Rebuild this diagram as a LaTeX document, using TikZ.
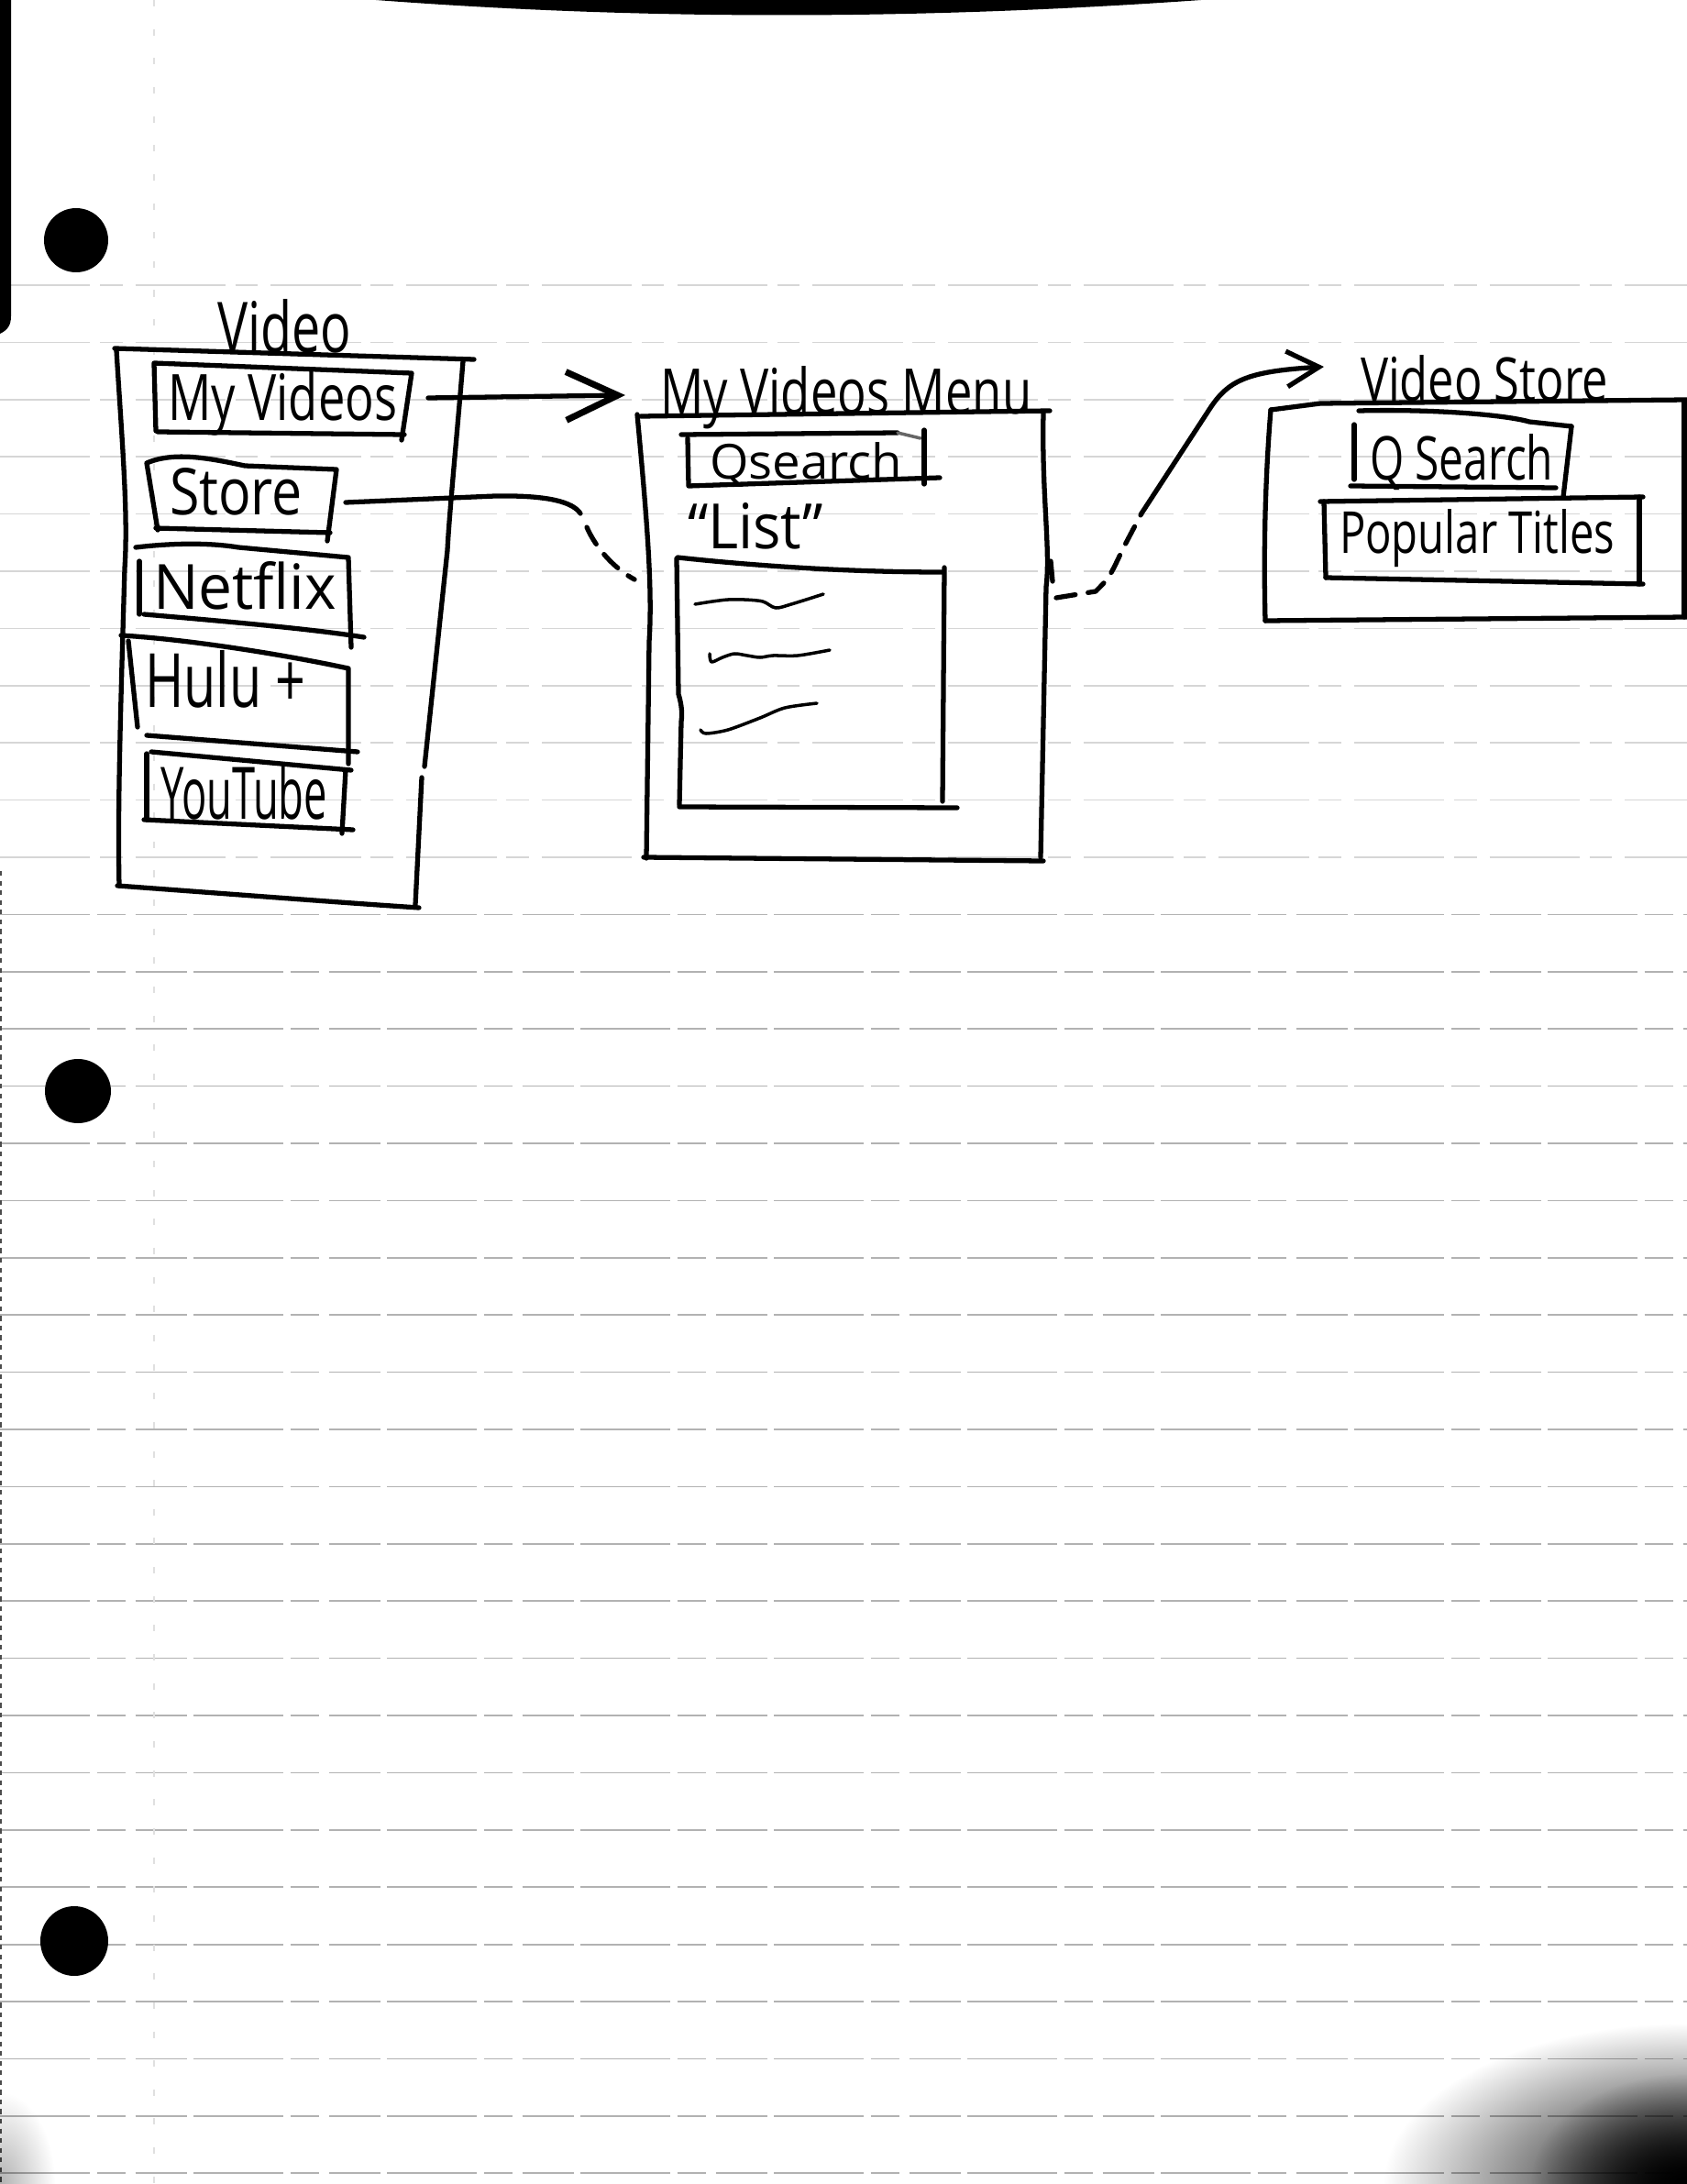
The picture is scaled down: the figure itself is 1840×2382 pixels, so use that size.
\documentclass[tikz,border=0pt]{standalone}
\usepackage{fontspec}
\setmainfont{Open Sans}
\usepackage{graphicx}
\usetikzlibrary{arrows.meta,fadings}
% hand lettering: text squeezed to a given width and height (in cm)
\newcommand{\handtext}[3]{\resizebox{#1cm}{#2cm}{#3}}
\tikzfading[name=soft spot, inner color=transparent!0, outer color=transparent!100]

\begin{document}
\begin{tikzpicture}[x=0.01cm,y=-0.01cm,
  pen/.style={line width=1.5pt,line cap=round,line join=round},
  finepen/.style={line width=1pt,line cap=round,line join=round},
  hidden/.style={pen,dash pattern=on 6pt off 4pt},
  rule/.style={black!30,line width=0.5pt,dash pattern=on 28pt off 2pt on 9pt off 3pt on 16pt off 2pt},
  faintrule/.style={black!16,line width=0.5pt,dash pattern=on 28pt off 3pt on 7pt off 4pt},
  label/.style={anchor=base west,inner sep=0pt,outer sep=0pt}]
\useasboundingbox (0,0) rectangle (1840,2382);
\fill[white] (0,0) rectangle (1840,2382);

% ---- ruled notebook paper ----
\foreach \k in {0,...,10}
  \draw[faintrule] (0,{311+62.4*\k}) -- (1840,{311+62.4*\k});
\foreach \k in {11,...,33}
  \draw[rule] (0,{311+62.4*\k}) -- (1840,{311+62.4*\k});
\draw[black!12,line width=0.4pt,dash pattern=on 2pt off 7pt] (168,0) -- (168,2382);

% punched holes
\fill (83,262) circle[radius=35];
\fill (85,1190) ellipse[x radius=36,y radius=35];
\fill (81,2117) ellipse[x radius=37,y radius=38];

% scan shadows at the paper edges
\fill (410,0) .. controls (700,22) and (1000,22) .. (1310,0) -- cycle;
\fill (0,0) -- (12,0) -- (12,345) .. controls (12,355) and (8,360) .. (0,364) -- cycle;
\draw[black!70,line width=0.8pt,dash pattern=on 1.5pt off 1.5pt] (1,950) -- (1,2382);
\begin{scope}
  \clip (0,0) rectangle (1840,2382);
  \fill[black,path fading=soft spot] (1840,2382) ellipse[x radius=330,y radius=175];
  \fill[black,path fading=soft spot] (1840,2382) ellipse[x radius=170,y radius=120];
  \fill[black,opacity=0.3,path fading=soft spot] (0,2382) ellipse[x radius=60,y radius=100];
\end{scope}

% ---- Video menu ----
\node[label] (t-video) at (237,385) {\handtext{1.46}{0.58}{Video}};
\draw[pen] (125,380) -- (517,392);
\draw[pen] (127,382) .. controls (133,480) and (140,560) .. (136,620)
  .. controls (132,760) and (128,880) .. (130,966);
\draw[pen] (128,966) .. controls (250,975) and (380,985) .. (457,990);
\draw[pen] (505,394) .. controls (498,480) and (490,560) .. (488,600) -- (463,836);
\draw[pen] (460,848) -- (453,987);

% My Videos
\draw[pen] (170,470) -- (168,396) -- (449,407) -- (438,480);
\draw[pen] (172,471) -- (441,474);
\node[label] (t-myvid) at (183,458) {\handtext{2.50}{0.53}{My Videos}};

% Store
\draw[pen] (172,578) -- (160,505) .. controls (190,492) and (230,500) .. (267,508)
  -- (367,512) -- (357,590);
\draw[pen] (170,576) -- (360,581);
\node[label] (t-store) at (185,561) {\handtext{1.45}{0.51}{Store}};

% Netflix
\draw[pen] (148,597) .. controls (190,592) and (230,592) .. (260,597) -- (380,608) -- (383,706);
\draw[pen] (152,612) -- (152,670);
\draw[pen] (157,670) .. controls (250,678) and (340,686) .. (397,695);
\node[label] (t-netflix) at (167,664) {\handtext{2.00}{0.52}{Netflix}};

% Hulu +
\draw[pen] (132,693) .. controls (200,697) and (300,712) .. (380,729) -- (380,833);
\draw[pen] (140,699) -- (150,793);
\draw[pen] (160,802) -- (390,820);
\node[label] (t-hulu) at (158,771) {\handtext{1.75}{0.62}{Hulu +}};

% YouTube
\draw[pen] (165,820) -- (383,840);
\draw[pen] (160,822) -- (160,894);
\draw[pen] (157,894) -- (385,905);
\draw[pen] (377,840) -- (373,909);
\node[label] (t-yt) at (175,893) {\handtext{1.82}{0.60}{YouTube}};

% ---- My Videos Menu ----
\node[label] (t-menu) at (720,452) {\handtext{4.05}{0.52}{My Videos Menu}};
\draw[pen] (699,454) -- (1145,448);
\draw[pen] (695,452) .. controls (705,560) and (712,640) .. (708,700) -- (705,936);
\draw[pen] (702,935) -- (1138,939);
\draw[pen] (1138,450) .. controls (1136,540) and (1146,600) .. (1141,640) -- (1135,935);

% Qsearch field
\draw[pen] (743,474) -- (979,472);
\draw[finepen,black!60] (979,472) -- (1004,478);
\draw[pen] (750,478) -- (751,530) -- (1025,521);
\draw[pen] (1008,469) -- (1008,528);
\node[label] (t-qsearch) at (774,522) {\handtext{2.10}{0.40}{Qsearch}};

% list
\node[label] (t-list) at (750,598) {\handtext{1.48}{0.50}{``List''}};
\draw[pen] (739,608) .. controls (850,620) and (950,624) .. (1028,624);
\draw[pen] (738,609) -- (740,757) .. controls (744,770) and (744,780) .. (743,787) -- (741,878);
\draw[pen] (741,880) -- (1044,881);
\draw[pen] (1030,619) -- (1028,874);
\draw[finepen] plot[smooth] coordinates {(758,659) (777,656) (794,654) (812,654) (832,656) (846,663) (863,659) (898,648)};
\draw[finepen] plot[smooth] coordinates {(774,713) (776,722) (788,717) (801,713) (815,715) (829,717) (843,715) (870,715) (905,709)};
\draw[finepen] plot[smooth] coordinates {(764,796) (770,800) (794,796) (829,783) (856,772) (891,767)};

% ---- Video Store ----
\node[label] (t-vstore) at (1484,438) {\handtext{2.70}{0.50}{Video Store}};
\draw[pen] (1386,447) -- (1440,440) -- (1840,436);
\draw[pen] (1386,447) .. controls (1380,520) and (1378,600) .. (1380,677);
\draw[pen] (1380,677) -- (1840,673);
\draw[pen] (1837,437) -- (1837,673);

% Q Search field
\draw[pen] (1482,448) .. controls (1560,446) and (1640,452) .. (1668,460) -- (1714,465);
\draw[pen] (1477,463) -- (1477,523);
\draw[pen] (1714,465) -- (1705,542);
\draw[pen] (1473,530) -- (1697,532);
\node[label] (t-vsearch) at (1494,523) {\handtext{2.00}{0.50}{Q Search}};

% Popular Titles
\draw[pen] (1440,547) -- (1792,542);
\draw[pen] (1444,547) -- (1446,630);
\draw[pen] (1446,630) -- (1792,637);
\draw[pen] (1788,542) -- (1788,637);
\node[label] (t-popular) at (1461,603) {\handtext{3.00}{0.48}{Popular Titles}};

% ---- connectors ----
\coordinate (mv-out) at (467,434);
\coordinate (menu-in) at (682,431);
\draw[pen,-{Straight Barb[length=16pt,width=15pt,line width=2pt]}] (mv-out) -- (menu-in);

\coordinate (store-out) at (377,548);
\coordinate (st-bend) at (633,560);
\coordinate (st-hide) at (640,575);
\coordinate (menu-l) at (692,632);
\draw[pen] (store-out) -- (540,541) .. controls (600,540) and (625,548) .. (st-bend);
\draw[hidden] (st-hide) .. controls (650,598) and (670,620) .. (menu-l);

\coordinate (menu-r) at (1152,652);
\coordinate (vs-mid) at (1245,560);
\coordinate (vs-in) at (1444,400);
\draw[pen] (1146,612) -- (1148,634);
\draw[hidden] (menu-r) -- (1195,645) .. controls (1210,630) .. (1225,598) -- (vs-mid);
\draw[pen,-{Straight Barb[length=10pt,width=11pt]}] (vs-mid) -- (1320,445)
  .. controls (1340,415) and (1360,405) .. (vs-in);
\end{tikzpicture}
\end{document}
